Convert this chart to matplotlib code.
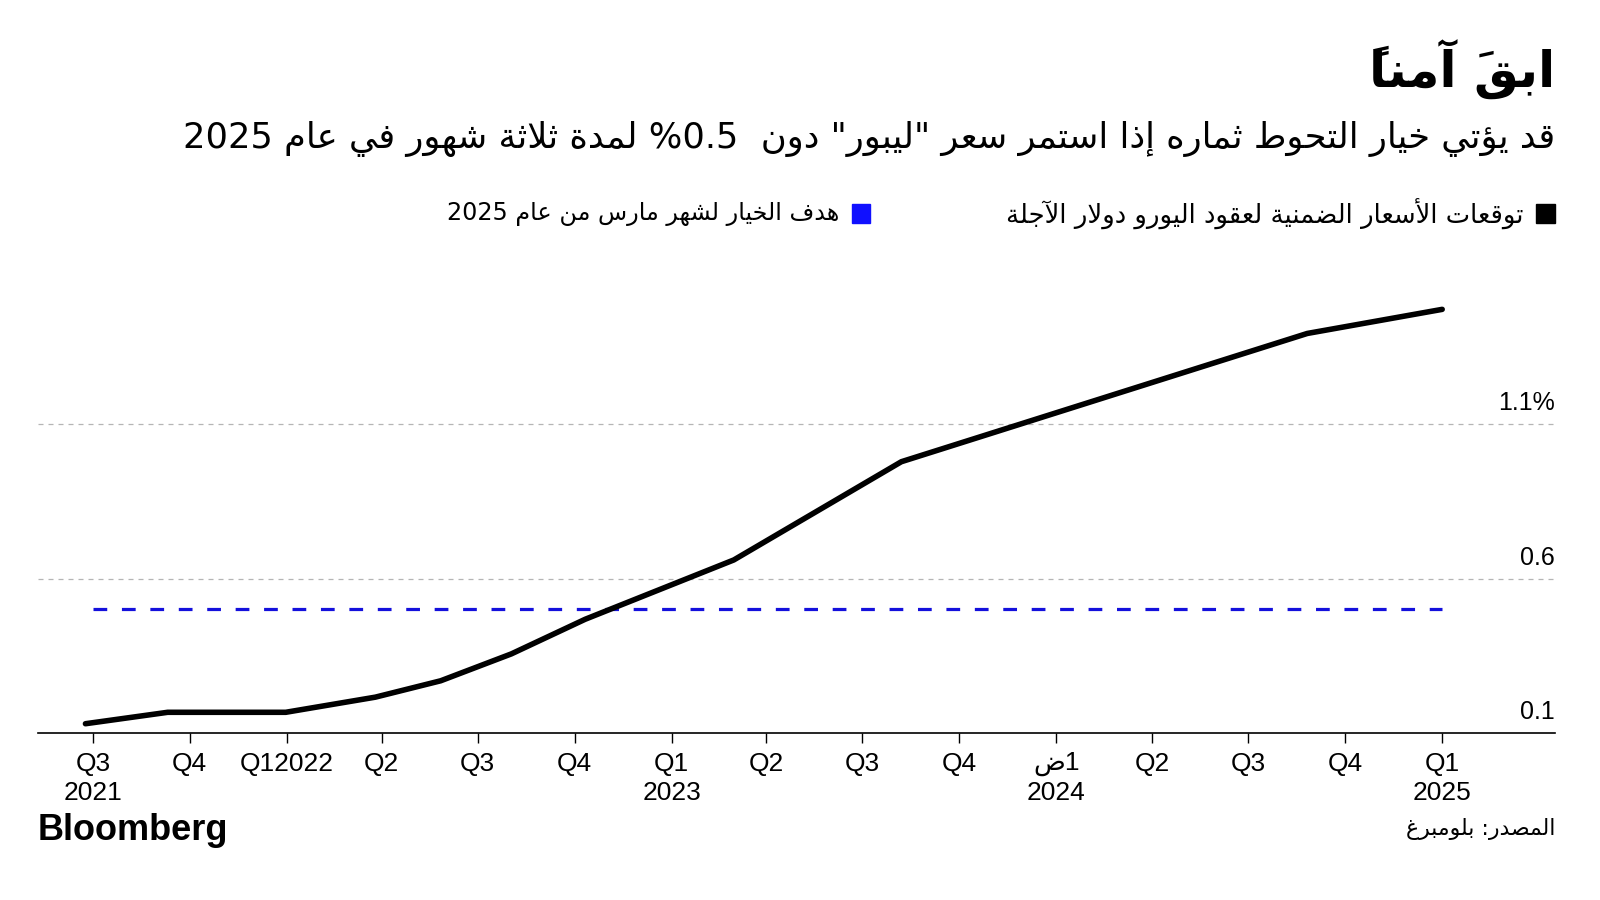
import matplotlib
matplotlib.use('Agg')
import matplotlib.pyplot as plt
import matplotlib.dates as mdates
from matplotlib.patches import Rectangle
import numpy as np
import re

# Arabic shaping: base code of the presentation form and number of forms
_FORMS = {
    '\u0621': (0xFE80, 1),
    '\u0622': (0xFE81, 2), '\u0623': (0xFE83, 2), '\u0624': (0xFE85, 2), '\u0625': (0xFE87, 2),
    '\u0626': (0xFE89, 4), '\u0627': (0xFE8D, 2), '\u0628': (0xFE8F, 4), '\u0629': (0xFE93, 2),
    '\u062A': (0xFE95, 4), '\u062B': (0xFE99, 4), '\u062C': (0xFE9D, 4), '\u062D': (0xFEA1, 4),
    '\u062E': (0xFEA5, 4), '\u062F': (0xFEA9, 2), '\u0630': (0xFEAB, 2), '\u0631': (0xFEAD, 2),
    '\u0632': (0xFEAF, 2), '\u0633': (0xFEB1, 4), '\u0634': (0xFEB5, 4), '\u0635': (0xFEB9, 4),
    '\u0636': (0xFEBD, 4), '\u0637': (0xFEC1, 4), '\u0638': (0xFEC5, 4), '\u0639': (0xFEC9, 4),
    '\u063A': (0xFECD, 4), '\u0641': (0xFED1, 4), '\u0642': (0xFED5, 4), '\u0643': (0xFED9, 4),
    '\u0644': (0xFEDD, 4), '\u0645': (0xFEE1, 4), '\u0646': (0xFEE5, 4), '\u0647': (0xFEE9, 4),
    '\u0648': (0xFEED, 2), '\u0649': (0xFEEF, 2), '\u064A': (0xFEF1, 4),
}
_LAM_ALEF = {'\u0622': 0xFEF5, '\u0623': 0xFEF7, '\u0625': 0xFEF9, '\u0627': 0xFEFB}


def ar(text):
    # cut into letters, marks stay with their letter
    toks = []
    for ch in text:
        if '\u064B' <= ch <= '\u0652' and toks:
            toks[-1][1] += ch
        else:
            toks.append([ch, ''])
    # lam + alef ligature
    merged = []
    i = 0
    while i < len(toks):
        if toks[i][0] == '\u0644' and i + 1 < len(toks) and toks[i + 1][0] in _LAM_ALEF:
            merged.append(['LA' + toks[i + 1][0], toks[i][1] + toks[i + 1][1]])
            i += 2
        else:
            merged.append(toks[i])
            i += 1

    def info(t):
        if t[0].startswith('LA'):
            return (_LAM_ALEF[t[0][2]], 2)
        return _FORMS.get(t[0])

    glyphs = []
    for k, t in enumerate(merged):
        inf = info(t)
        if inf is None:
            glyphs.append(t[0] + t[1])
            continue
        base, n = inf
        prev = info(merged[k - 1]) if k > 0 else None
        nxt = info(merged[k + 1]) if k + 1 < len(merged) else None
        join_prev = n >= 2 and prev is not None and prev[1] == 4
        join_next = n == 4 and nxt is not None and nxt[1] >= 2
        if join_prev and join_next:
            code = base + 3
        elif join_prev:
            code = base + 1
        elif join_next:
            code = base + 2
        else:
            code = base
        glyphs.append(chr(code) + t[1])
    # visual order: numbers stay left to right, the rest is reversed
    runs = []
    for g in glyphs:
        ltr = bool(re.match(r'[0-9A-Za-z.]', g[0]))
        if runs and runs[-1][0] == ltr:
            runs[-1][1].append(g)
        else:
            runs.append([ltr, [g]])
    out = ''
    for ltr, gs in reversed(runs):
        s = ''.join(gs)
        out += s if ltr else s[::-1]
    return out


# data
dates = ['2021-06-24', '2021-09-10', '2021-12-31', '2022-03-26', '2022-05-27', '2022-08-02',
         '2022-10-11', '2023-03-01', '2023-08-07', '2024-08-26', '2025-01-01']
values = [0.13, 0.167, 0.167, 0.216, 0.269, 0.356, 0.468, 0.66, 0.978, 1.393, 1.471]
target_dates = ['2021-07-01', '2025-01-01']
target_values = [0.5, 0.5]

tick_dates = ['2021-07-01', '2021-10-01', '2022-01-01', '2022-04-01', '2022-07-01', '2022-10-01',
              '2023-01-01', '2023-04-01', '2023-07-01', '2023-10-01', '2024-01-01', '2024-04-01',
              '2024-07-01', '2024-10-01', '2025-01-01']
tick_labels = ['Q3\n2021', 'Q4', 'Q12022', 'Q2', 'Q3', 'Q4', 'Q1\n2023', 'Q2', 'Q3', 'Q4',
               ar('ض') + '1\n2024', 'Q2', 'Q3', 'Q4', 'Q1\n2025']
y_ticks = [0.1, 0.6, 1.1]
y_labels = ['0.1', '0.6', '1.1%']

title = 'ابقَ آمناً'
subtitle = 'قد يؤتي خيار التحوط ثماره إذا استمر سعر "ليبور" دون  0.5% لمدة ثلاثة شهور في عام 2025'
legend_black = 'توقعات الأسعار الضمنية لعقود اليورو دولار الآجلة'
legend_blue = 'هدف الخيار لشهر مارس من عام 2025'
source = 'المصدر: بلومبرغ'

BLUE = '#1410dc'
LAT = ['Liberation Sans', 'DejaVu Sans']

fig = plt.figure(figsize=(16, 9), dpi=100)
ax = fig.add_axes([38 / 1600, 1 - 733 / 900, (1555 - 38) / 1600, (733 - 280) / 900])

x = mdates.date2num(np.array(dates, dtype='datetime64[D]'))
xt = mdates.date2num(np.array(target_dates, dtype='datetime64[D]'))

for v in y_ticks[1:]:
    ax.axhline(v, color='#b5b5b5', lw=0.9, linestyle=(0, (4, 4)), zorder=1)

ax.plot(xt, target_values, color=BLUE, lw=2.3, linestyle=(0, (4.3, 4.6)), zorder=2)
ax.plot(x, values, color='black', lw=4.0, solid_capstyle='round', solid_joinstyle='round', zorder=3)

ax.set_xlim(mdates.date2num(np.datetime64('2021-05-10')), mdates.date2num(np.datetime64('2025-04-18')))
ax.set_ylim(0.1, 0.1 + 453 / 309)

ax.set_xticks(mdates.date2num(np.array(tick_dates, dtype='datetime64[D]')))
ax.set_xticklabels(tick_labels, fontsize=19, family=LAT, linespacing=1.25)
ax.tick_params(axis='x', length=7.5, width=1, pad=6, colors='black')
ax.set_yticks([])
for s in ['top', 'right', 'left']:
    ax.spines[s].set_visible(False)
ax.spines['bottom'].set_linewidth(1.2)

for v, lab in zip(y_ticks, y_labels):
    ax.annotate(lab, xy=(1.0, v), xycoords=('axes fraction', 'data'),
                xytext=(0, 10), textcoords='offset points',
                ha='right', va='baseline', fontsize=18, family=LAT)

# titles
t1 = fig.text(1555 / 1600, 1 - 70 / 900, ar(title), ha='right', va='center',
              fontsize=36, fontweight='bold', family='DejaVu Sans')
t2 = fig.text(1555 / 1600, 1 - 139 / 900, ar(subtitle), ha='right', va='center',
              fontsize=24, family='DejaVu Sans')

# legend
fig.patches.append(Rectangle((1536 / 1600, 1 - 223 / 900), 19 / 1600, 19 / 900,
                             transform=fig.transFigure, color='black'))
fig.patches.append(Rectangle((852 / 1600, 1 - 223 / 900), 18 / 1600, 19 / 900,
                             transform=fig.transFigure, color='#1010ff'))
t3 = fig.text(1523 / 1600, 1 - 214 / 900, ar(legend_black), ha='right', va='center',
              fontsize=16, family='DejaVu Sans')
t4 = fig.text(839 / 1600, 1 - 214 / 900, ar(legend_blue), ha='right', va='center',
              fontsize=16, family='DejaVu Sans')

fig.text(38 / 1600, 1 - 830 / 900, 'Bloomberg', ha='left', va='center',
         fontsize=26, fontweight='bold', family=LAT)
t5 = fig.text(1555 / 1600, 1 - 829 / 900, ar(source), ha='right', va='center',
              fontsize=15, family='DejaVu Sans')

# match the widths of the Arabic texts to the picture
r = fig.canvas.get_renderer()
for t, w in [(t1, 186), (t2, 1376), (t3, 519), (t4, 393), (t5, 150)]:
    cur = t.get_window_extent(r).width
    t.set_fontsize(t.get_fontsize() * w / cur)

fig.savefig('out.png', dpi=100)
